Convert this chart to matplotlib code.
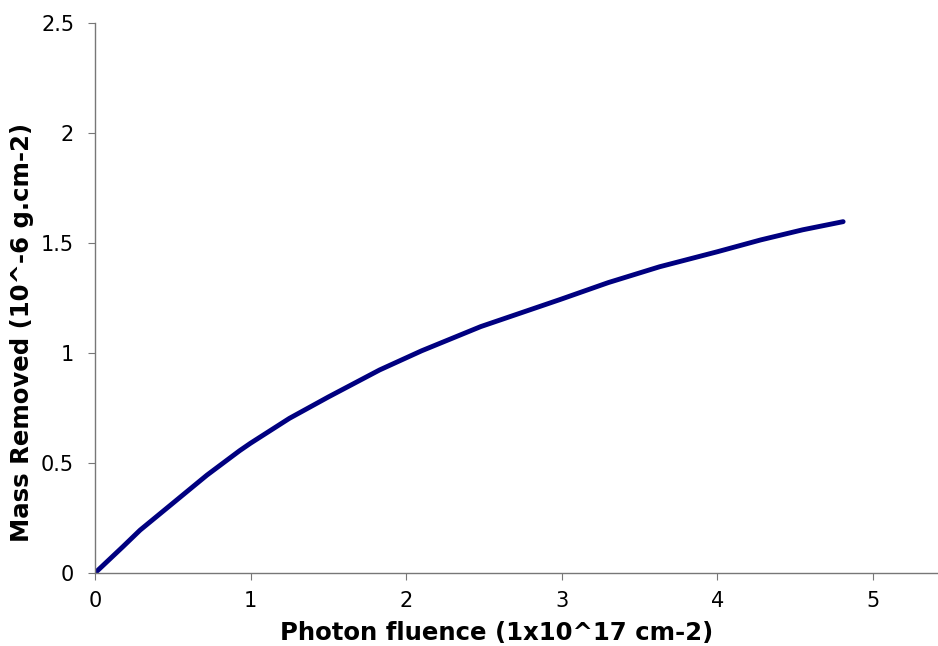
import matplotlib.pyplot as plt

# 读图估计的数据点
fluence = [0.0, 0.18, 0.29, 0.5, 0.72, 0.93, 1.0, 1.25, 1.5, 1.83, 2.1, 2.48,
           2.99, 3.3, 3.63, 4.0, 4.28, 4.55, 4.81]
mass = [0.0, 0.12, 0.195, 0.317, 0.445, 0.556, 0.59, 0.703, 0.80, 0.923, 1.01, 1.12,
        1.243, 1.32, 1.392, 1.46, 1.514, 1.56, 1.597]

x_ticks = [0, 1, 2, 3, 4, 5]
y_ticks = [0, 0.5, 1, 1.5, 2, 2.5]
y_labels = ['0', '0.5', '1', '1.5', '2', '2.5']

fig = plt.figure(figsize=(9.38, 6.46), dpi=100)
ax = fig.add_axes([95 / 938, 1 - 573 / 646, (938 - 95) / 938, (573 - 23) / 646])

ax.plot(fluence, mass, color='#000080', linewidth=3.5,
        solid_capstyle='round', solid_joinstyle='round')

ax.set_xlim(0, 5.42)
ax.set_ylim(0, 2.5)
ax.set_xticks(x_ticks)
ax.set_yticks(y_ticks)
ax.set_yticklabels(y_labels)

for side in ['top', 'right']:
    ax.spines[side].set_visible(False)
for side in ['left', 'bottom']:
    ax.spines[side].set_color('#777777')
    ax.spines[side].set_linewidth(1)
ax.tick_params(direction='out', length=5, color='#777777', labelsize=15)
ax.tick_params(axis='x', pad=8)
ax.tick_params(axis='y', pad=10)

ax.set_xlabel('Photon fluence (1x10^17 cm-2)', fontsize=17.6, fontweight='bold', va='center')
ax.set_ylabel('Mass Removed (10^-6 g.cm-2)', fontsize=17.6, fontweight='bold', va='center')
ax.xaxis.set_label_coords(0.477, -0.109)
ax.yaxis.set_label_coords(-0.0866, 0.438)

fig.savefig('out.png', dpi=100)
